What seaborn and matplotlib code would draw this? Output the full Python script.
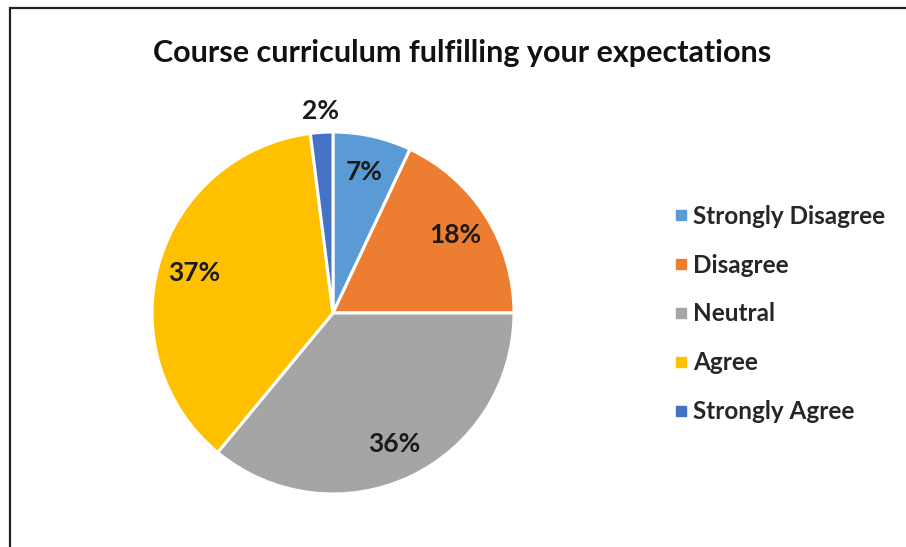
import numpy as np
import matplotlib.pyplot as plt
import seaborn as sns
from matplotlib.patches import Rectangle

categories = ["Strongly Disagree", "Disagree", "Neutral", "Agree", "Strongly Agree"]
shares = [7, 18, 36, 37, 2]
colors = ["#5B9BD5", "#ED7D31", "#A5A5A5", "#FFC000", "#4472C4"]
title = "Course curriculum fulfilling your expectations"

sns.set_style("white")
plt.rcParams['font.family'] = ['Lato', 'DejaVu Sans']

W, H = 906, 547
fig = plt.figure(figsize=(W / 100, H / 100), dpi=100)

# Rahmen um das Diagramm (rechts/unten abgeschnitten)
fig.patches.append(Rectangle((10 / W, -0.05), 1.1, 1 - 8 / H + 0.05, transform=fig.transFigure,
                             fill=False, edgecolor='#222222', linewidth=1.6))

cx, cy, r = 333, 313, 181
ax = fig.add_axes([(cx - r) / W, (H - cy - r) / H, 2 * r / W, 2 * r / H])

wedges, texts, autotexts = ax.pie(shares, colors=colors, startangle=90, counterclock=False,
                                  autopct='%d%%', pctdistance=0.80, radius=1,
                                  wedgeprops=dict(edgecolor='white', linewidth=2.2),
                                  textprops=dict(fontsize=19, fontweight='bold', color='#1a1a1a'))
ax.set_xlim(-1, 1)
ax.set_ylim(-1, 1)
ax.set_aspect('equal')

# Kleiner Anteil: Beschriftung außerhalb
w = wedges[-1]
mid = np.deg2rad((w.theta1 + w.theta2) / 2)
autotexts[-1].set_position((1.12 * np.cos(mid), 1.12 * np.sin(mid)))

fig.text(462 / W, 1 - 53 / H, title, ha='center', va='center', fontsize=22, fontweight='bold',
         color='#111111')

handles = [plt.Line2D([0], [0], marker='s', linestyle='', markersize=7, markerfacecolor=c,
                      markeredgecolor=c) for c in colors]
fig.legend(handles, categories, loc='center left', bbox_to_anchor=(659 / W, 1 - 314 / H),
           frameon=False, labelspacing=1.06, handletextpad=0.1, borderpad=0,
           handlelength=0.8, prop=dict(weight='bold', size=17.5))

fig.savefig('out.png', dpi=100)
